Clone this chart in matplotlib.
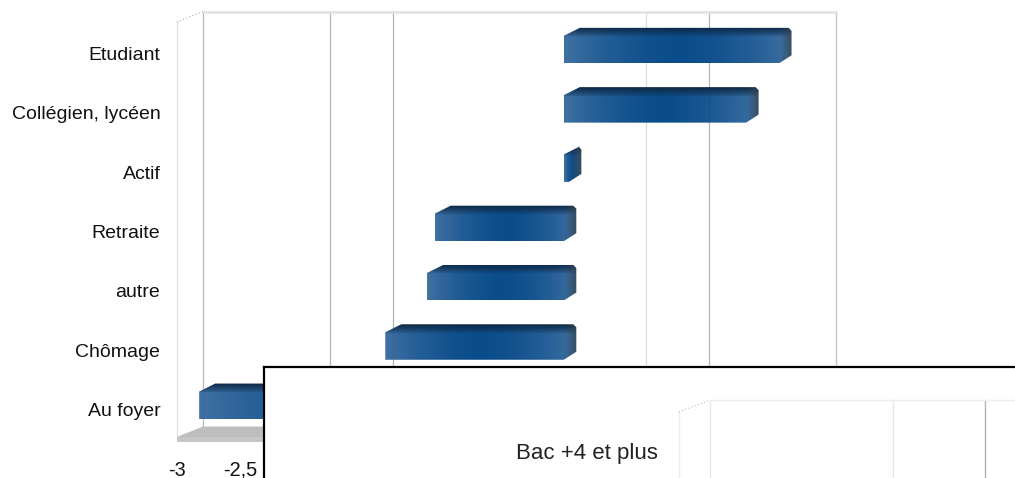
import numpy as np
import matplotlib
matplotlib.use('Agg')
import matplotlib.pyplot as plt
from matplotlib.colors import to_rgb
from matplotlib.patches import Polygon
from matplotlib.transforms import ScaledTranslation

plt.rcParams['font.family'] = ['Liberation Sans', 'DejaVu Sans']

categories = ['Etudiant', 'Collégien, lycéen', 'Actif', 'Retraite', 'autre', 'Chômage', 'Au foyer']
values = [1.70, 1.44, 0.04, -1.02, -1.08, -1.41, -2.88]
# the other tick labels are hidden by the pasted chart
x_ticks = [-3, -2.5]
x_labels = ['-3', '-2,5']
grid_vals = [-3, -2, -1.5, 0.5, 1, 2]
grid_cols = ['#b8b8b8', '#b3b3b3', '#b3b3b3', '#dddddd', '#b3b3b3', '#c4c4c4']

inset_label = 'Bac +4 et plus'
inset_grid = [0, 1, 1.5]
inset_cols = ['#e6e6e6', '#e6e6e6', '#b3b3b3']

W, H = 1015, 478
fig = plt.figure(figsize=(W / 100, H / 100), dpi=100)

# front plane of the 3d box, in pixels
left, right, top, bottom = 177, 810, 22, 437
ax = fig.add_axes([left / W, 1 - bottom / H, (right - left) / W, (bottom - top) / H])
ax.set_xlim(-3, 2)
ax.set_ylim(6.5, -0.5)
px = 5 / (right - left)      # x units per pixel
py = 7 / (bottom - top)      # y units per pixel
for s in ax.spines.values():
    s.set_visible(False)

# depth of the box
dx, dy = 26 * px, 10.5 * py

for v, c in zip(grid_vals, grid_cols):
    ax.plot([v + dx, v + dx], [6.5 - dy, -0.5 - dy], color=c, lw=0.9, clip_on=False, zorder=1)
ax.plot([-3 + dx, 2 + dx], [-0.5 - dy, -0.5 - dy], color='#e2e2e2', lw=1.8, clip_on=False, zorder=1)
ax.plot([-3, -3], [-0.5, 6.5], color='#e4e4e4', lw=1, clip_on=False, zorder=1)
ax.plot([-3, -3 + dx], [-0.5, -0.5 - dy], color='#aaaaaa', lw=0.8, ls=(0, (1, 2)), clip_on=False, zorder=1)

# floor
ax.add_patch(Polygon([(-3, 6.5), (-3 + dx, 6.5 - dy), (2 + dx, 6.5 - dy), (2, 6.5)],
                     fc='#bdbdbd', ec='none', clip_on=False, zorder=1))
ax.add_patch(Polygon([(-3, 6.5), (2, 6.5), (2, 6.5 + 4.5 * py), (-3, 6.5 + 4.5 * py)],
                     fc='#c6c6c6', ec='none', clip_on=False, zorder=1))

edge = np.array(to_rgb('#376a9e'))
center = np.array(to_rgb('#004586'))
shade = np.array(to_rgb('#2b3a48'))
top_dark = np.array(to_rgb('#03203f'))


def draw_bar(i, v):
    # face in front, top and side go back by these many pixels
    x0 = min(0, v) + 7 * px
    x1 = max(0, v) + 7 * px
    yb = i + 11.7 * py
    yt = i - 15.8 * py
    sl, sr, d = 16 * px, 12.5 * px, 8 * py
    outline = [(x0, yb), (x0, yt), (x0 + sl, yt - d), (x1 + sr - 3 * px, yt - d),
               (x1 + sr, yt - d + 3 * py), (x1 + sr, yb - d), (x1, yb)]
    nx = max(int((x1 + sr - x0) / px), 2)
    ny = int((yb - yt + d) / py)
    t = np.linspace(0, 1, nx)
    mix = np.abs(2 * t - 1) ** 1.7
    img = np.zeros((ny, nx, 3))
    for k in range(3):
        img[:, :, k] = center[k] + (edge[k] - center[k]) * mix
    # darker top face
    rows = np.clip(1 - np.arange(ny) / (d / py + 1), 0, 1)[:, None, None] ** 0.8
    img = img * (1 - rows) + top_dark * rows
    # darker side at the far end
    cols = np.clip((np.arange(nx) - (nx - sr / px)) / (sr / px), 0, 1)[None, :, None]
    img = img * (1 - 0.85 * cols) + shade * 0.85 * cols
    im = ax.imshow(img, extent=(x0, x1 + sr, yb, yt - d), aspect='auto', zorder=2,
                   interpolation='bilinear', alpha=0.96)
    im.set_clip_path(Polygon(outline, transform=ax.transData))


for i, v in enumerate(values):
    draw_bar(i, v)
ax.set_xlim(-3, 2)
ax.set_ylim(6.5, -0.5)

ax.set_yticks(range(len(categories)))
ax.set_yticklabels(categories, fontsize=14, color='#111111', va='center')
ax.set_xticks(x_ticks)
ax.set_xticklabels(x_labels, fontsize=14.3, color='#111111')
ax.tick_params(axis='both', length=0)
ax.tick_params(axis='y', pad=12)
ax.tick_params(axis='x', pad=17)
# category labels sit a little under the bar centres
shift = ScaledTranslation(0, -4 / 100, fig.dpi_scale_trans)
for lab in ax.get_yticklabels():
    lab.set_transform(lab.get_transform() + shift)
ax.patch.set_alpha(0)

# second chart pasted on top, cut by the image border
il, it = 264, 367
ir, ib = W + 20, H + 20
ax2 = fig.add_axes([il / W, 1 - ib / H, (ir - il) / W, (ib - it) / H], zorder=5)
ax2.set_facecolor('white')
ax2.set_xlim((il - 710) / 183, (ir - 710) / 183)
ax2.set_ylim(ib, it)
ax2.set_xticks([])
ax2.set_yticks([])
for s in ax2.spines.values():
    s.set_linewidth(1.6)
    s.set_color('black')
for v, c in zip(inset_grid, inset_cols):
    ax2.plot([v, v], [400, ib], color=c, lw=1)
ax2.plot([0, (ir - 710) / 183], [400, 400], color='#eeeeee', lw=1)
ax2.plot([-31 / 183, -31 / 183], [412, ib], color='#eeeeee', lw=1)
ax2.plot([-31 / 183, 0], [412, 400], color='#bbbbbb', lw=0.8, ls=(0, (1, 2)))
ax2.text(-52 / 183, 453, inset_label, ha='right', va='center', fontsize=16, color='#222222')

fig.savefig('out.png', dpi=100)
